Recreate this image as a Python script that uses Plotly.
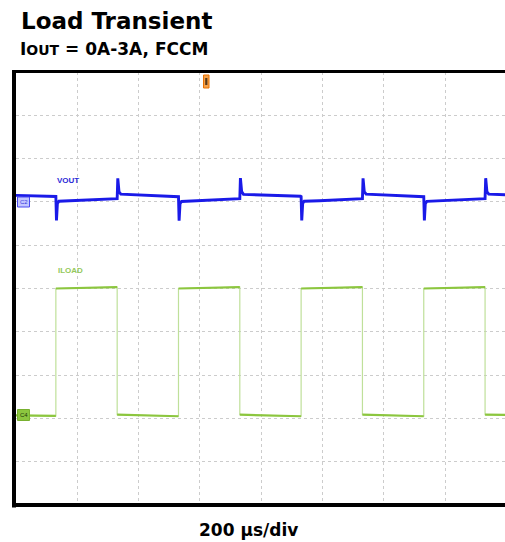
import plotly.graph_objects as go

# ---------------- data ----------------
# time in microseconds (200 us/div), VOUT as AC deviation in mV (50 mV/div), ILOAD in A (1 A/div)
vout_t = [
    0, 40, 90, 128,
    130, 132, 135, 140, 190, 260, 326,
    330, 332, 336, 342, 410, 480, 528,
    530, 532, 535, 540, 590, 660, 726,
    730, 732, 736, 742, 810, 880, 928,
    930, 932, 935, 940, 990, 1060, 1126,
    1130, 1132, 1136, 1142, 1210, 1280, 1328,
    1330, 1332, 1335, 1340, 1390, 1460, 1526,
    1530, 1532, 1536, 1542, 1596]
vout_mv = [
    1.8, 1.5, 1.6, 1.2,
    0.5, -27.0, -7.5, -5.0, -4.3, -3.2, -2.2,
    -2.0, 21.5, 6.0, 3.2, 2.4, 1.0, 0.8,
    0.3, -27.3, -7.8, -5.2, -4.4, -3.4, -2.3,
    -2.0, 21.8, 6.2, 3.0, 2.5, 1.2, 0.9,
    0.4, -27.0, -7.6, -5.0, -4.3, -3.3, -2.2,
    -1.9, 21.6, 6.0, 3.3, 2.4, 1.1, 0.8,
    0.3, -27.2, -7.7, -5.1, -4.4, -3.3, -2.2,
    -2.0, 21.7, 6.1, 3.3, 2.6]

iload_t = [0, 130, 130, 330, 330, 530, 530, 730, 730, 930, 930, 1130, 1130, 1330, 1330, 1530, 1530, 1596]
iload_a = [0.01, 0.0, 2.94, 2.97, 0.025, -0.01, 2.94, 2.97, 0.025, -0.01, 2.94, 2.97, 0.025, -0.01, 2.94, 2.97, 0.025, 0.02]

title_text = "Load Transient"
subtitle_text = "I<span style='font-size:14px'>OUT</span> = 0A-3A, FCCM"
xlabel_text = "200 µs/div"

# ---------------- styling / geometry ----------------
W, H = 505, 542
ML, MR, MT, MB = 16, 0, 72, 37
PW, PH = W - ML - MR, H - MT - MB
X_RANGE = [0, 1595]
Y_RANGE = [-2.06, 7.94]       # ILOAD axis, 1 A/div
Y2_RANGE = [-355.7, 144.3]    # VOUT axis, 50 mV/div

BLUE = "#1a1ae8"
GREEN = "#8cc63f"
GREEN_EDGE = "#bfe09a"
GRID = "#cccccc"


def px_x(p):
    return (p - ML) / PW


def px_y(p):
    return (H - MB - p) / PH


# ILOAD level segments (pairs of points), separated by gaps
lvl_t, lvl_a = [], []
for i in range(0, len(iload_t), 2):
    lvl_t += [iload_t[i], iload_t[i + 1], None]
    lvl_a += [iload_a[i], iload_a[i + 1], None]

fig = go.Figure()
fig.add_trace(go.Scatter(x=iload_t, y=iload_a, mode="lines",
                         line=dict(color=GREEN_EDGE, width=1.2), hoverinfo="skip", showlegend=False))
fig.add_trace(go.Scatter(x=lvl_t, y=lvl_a, mode="lines",
                         line=dict(color=GREEN, width=2.2), hoverinfo="skip", showlegend=False))
fig.add_trace(go.Scatter(x=vout_t, y=vout_mv, mode="lines", yaxis="y2",
                         line=dict(color=BLUE, width=2.9), hoverinfo="skip", showlegend=False))

shapes = [
    # frame (left, top, bottom; right side cut off)
    dict(type="rect", xref="paper", yref="paper", xsizemode="pixel", xanchor=0,
         x0=-4, x1=0, y0=-0.006, y1=1.004, fillcolor="black", line_width=0, layer="above"),
    dict(type="rect", xref="paper", yref="paper", ysizemode="pixel", yanchor=1,
         y0=-1, y1=2, x0=-0.008, x1=1.0, fillcolor="black", line_width=0, layer="above"),
    dict(type="rect", xref="paper", yref="paper", ysizemode="pixel", yanchor=0,
         y0=-2, y1=2, x0=-0.008, x1=1.0, fillcolor="black", line_width=0, layer="above"),
    # trigger marker
    dict(type="rect", xref="paper", yref="paper", x0=px_x(203.5), x1=px_x(209), y0=px_y(88), y1=px_y(75),
         fillcolor="#f6a14a", line=dict(color="#e87000", width=1), layer="above"),
    dict(type="rect", xref="paper", yref="paper", x0=px_x(205.2), x1=px_x(207.4), y0=px_y(85), y1=px_y(78),
         fillcolor="#5a3a1a", line_width=0, layer="above"),
    # C2 channel marker
    dict(type="rect", xref="paper", yref="paper", x0=px_x(17.5), x1=px_x(29.5), y0=px_y(207), y1=px_y(197),
         fillcolor="#c3c6ff", line=dict(color="#4a4af0", width=1), layer="above"),
    # C4 channel marker
    dict(type="rect", xref="paper", yref="paper", x0=px_x(17.5), x1=px_x(29.5), y0=px_y(420.5), y1=px_y(409.5),
         fillcolor=GREEN, line=dict(color="#78b030", width=1), layer="above"),
]

annotations = [
    dict(text=f"<b>{title_text}</b>", xref="paper", yref="paper", x=px_x(19), y=px_y(20.5),
         xanchor="left", yanchor="middle", showarrow=False,
         font=dict(family="DejaVu Sans", size=23, color="black")),
    dict(text=f"<b>{subtitle_text}</b>", xref="paper", yref="paper", x=px_x(18), y=px_y(48.5),
         xanchor="left", yanchor="middle", showarrow=False,
         font=dict(family="DejaVu Sans", size=17, color="black")),
    dict(text=f"<b>{xlabel_text}</b>", xref="paper", yref="paper", x=px_x(248), y=px_y(529.5),
         xanchor="center", yanchor="middle", showarrow=False,
         font=dict(family="DejaVu Sans", size=17, color="black")),
    dict(text="<b>VOUT</b>", xref="paper", yref="paper", x=px_x(55), y=px_y(180),
         xanchor="left", yanchor="middle", showarrow=False,
         font=dict(family="Liberation Sans", size=8, color="#2a2ad8")),
    dict(text="<b>ILOAD</b>", xref="paper", yref="paper", x=px_x(56), y=px_y(270),
         xanchor="left", yanchor="middle", showarrow=False,
         font=dict(family="Liberation Sans", size=8, color="#94c95a")),
    dict(text="C2", xref="paper", yref="paper", x=px_x(23.5), y=px_y(202),
         xanchor="center", yanchor="middle", showarrow=False,
         font=dict(family="Liberation Sans", size=6, color="#3a3ae0")),
    dict(text="C4", xref="paper", yref="paper", x=px_x(23.5), y=px_y(415),
         xanchor="center", yanchor="middle", showarrow=False,
         font=dict(family="Liberation Sans", size=6, color="#1e3a08")),
]

fig.update_layout(
    width=W, height=H,
    margin=dict(l=ML, r=MR, t=MT, b=MB, pad=0),
    paper_bgcolor="white", plot_bgcolor="white",
    showlegend=False,
    xaxis=dict(range=X_RANGE, tick0=0, dtick=200, showgrid=True, gridcolor=GRID, griddash="dot",
               gridwidth=1, zeroline=False, showticklabels=False, ticks="", showline=False, fixedrange=True),
    yaxis=dict(range=Y_RANGE, tick0=Y_RANGE[0], dtick=1, showgrid=True, gridcolor=GRID, griddash="dot",
               gridwidth=1, zeroline=False, showticklabels=False, ticks="", showline=False, fixedrange=True),
    yaxis2=dict(range=Y2_RANGE, overlaying="y", side="right", showgrid=False, zeroline=False,
                showticklabels=False, ticks="", showline=False, fixedrange=True),
    shapes=shapes,
    annotations=annotations,
)

fig.write_html("out.html", config={"displayModeBar": False},
               post_script="document.body.style.margin='0px';document.body.style.overflow='hidden';")
